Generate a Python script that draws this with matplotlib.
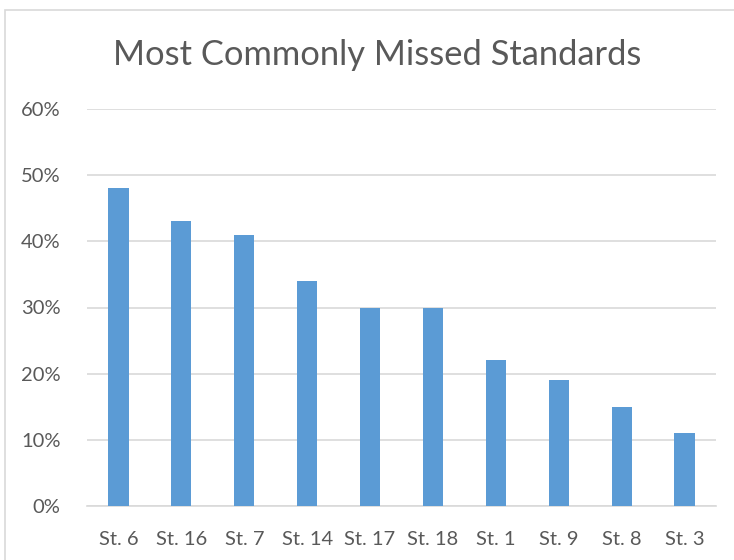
import matplotlib
matplotlib.use('Agg')
import matplotlib.pyplot as plt
from matplotlib.patches import Rectangle
from matplotlib.ticker import FuncFormatter

# data
standards = ['St. 6', 'St. 16', 'St. 7', 'St. 14', 'St. 17', 'St. 18', 'St. 1', 'St. 9', 'St. 8', 'St. 3']
missed = [48, 43, 41, 34, 30, 30, 22, 19, 15, 11]
yticks = [0, 10, 20, 30, 40, 50, 60]

plt.rcParams['font.family'] = ['Lato', 'DejaVu Sans']
grey = '#595959'

fig = plt.figure(figsize=(7.34, 5.6), dpi=100)
ax = fig.add_axes([87 / 734, 54 / 560, 629 / 734, 397 / 560])

# chart frame like the excel chart area
fig.patches.append(Rectangle((5 / 734, -0.1), 1.0, (550 / 560) + 0.1, transform=fig.transFigure,
                             fill=False, edgecolor='#d9d9d9', linewidth=1.2))

x = range(len(standards))
ax.bar(x, missed, width=0.32, color='#5b9bd5', zorder=3)

ax.set_xlim(-0.5, len(standards) - 0.5)
ax.set_ylim(0, 60)
ax.set_yticks(yticks)
ax.yaxis.set_major_formatter(FuncFormatter(lambda v, p: f'{int(v)}%'))
ax.set_xticks(list(x))
ax.set_xticklabels(standards)

ax.grid(axis='y', color='#d9d9d9', linewidth=1.2, zorder=0)
for s in ['top', 'right', 'left']:
    ax.spines[s].set_visible(False)
ax.spines['bottom'].set_color('#d9d9d9')
ax.spines['bottom'].set_linewidth(1.2)
ax.tick_params(axis='both', length=0, labelsize=14.5, colors=grey)
ax.tick_params(axis='y', pad=19)
ax.tick_params(axis='x', pad=18)

fig.text(377 / 734, 1 - 55 / 560, 'Most Commonly Missed Standards', ha='center', va='center',
         fontsize=24.8, color=grey)

fig.savefig('out.png', dpi=100)
